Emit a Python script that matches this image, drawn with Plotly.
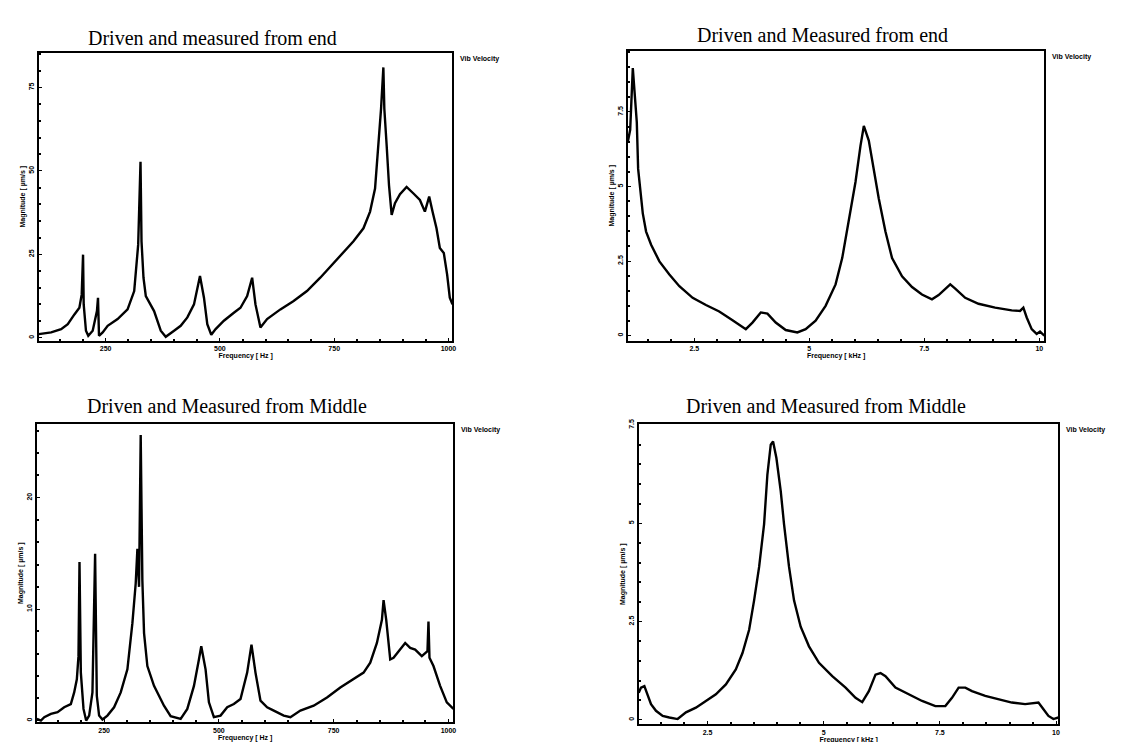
import plotly.graph_objects as go

# ---------------- data ----------------
# Top-left: driven and measured from end, low band (Hz)
tl_freq = [103.9, 130.8, 152.6, 167.2, 181.7, 192.6, 197.7, 200.6, 202.0, 207.0,
           212.0, 221.7, 231.0, 233.3, 235.5, 243.5, 254.4, 276.2, 298.0, 312.5,
           321.2, 324.9, 326.3, 328.5, 332.8, 337.9, 356.0, 370.6, 381.5, 399.7,
           414.2, 428.8, 443.3, 456.4, 465.1, 472.4, 481.1, 490.6, 508.7, 530.5,
           545.0, 559.6, 570.5, 577.8, 588.7, 603.2, 632.3, 661.3, 690.4, 719.5,
           748.5, 770.3, 792.2, 814.0, 828.5, 839.4, 846.7, 852.5, 857.6, 859.7,
           864.8, 869.9, 875.7, 883.0, 893.9, 908.4, 922.9, 937.5, 948.4, 957.8,
           965.1, 973.8, 981.1, 989.8, 997.1, 1002.9, 1008.7]
tl_mag = [1.1, 1.6, 2.6, 4.1, 7.0, 9.0, 13.0, 24.9, 10.0, 2.1,
          0.6, 2.1, 8.0, 12.0, 0.6, 1.6, 3.6, 5.6, 8.5, 14.0,
          27.9, 41.8, 52.7, 28.9, 18.0, 12.5, 8.0, 2.1, 0.3, 2.1,
          3.6, 6.1, 10.0, 18.5, 12.0, 4.1, 0.9, 2.6, 5.1, 7.5,
          9.0, 12.5, 18.0, 10.0, 3.1, 5.6, 8.5, 11.0, 14.0, 18.0,
          22.4, 25.9, 28.9, 32.8, 37.8, 44.7, 57.6, 68.6, 81.0, 68.6,
          57.6, 45.7, 36.8, 40.3, 43.0, 45.2, 43.3, 41.3, 37.8, 42.3,
          37.8, 32.8, 26.9, 25.4, 18.9, 12.0, 10.0]

# Top-right: driven and measured from end, high band (kHz)
tr_freq = [1.055, 1.106, 1.163, 1.221, 1.250, 1.279, 1.322, 1.380, 1.452, 1.561,
           1.741, 1.958, 2.175, 2.464, 2.753, 3.042, 3.331, 3.620, 3.764, 3.945,
           4.090, 4.270, 4.487, 4.740, 4.920, 5.137, 5.354, 5.571, 5.715, 5.860,
           6.004, 6.113, 6.185, 6.293, 6.402, 6.510, 6.655, 6.799, 7.016, 7.233,
           7.449, 7.666, 7.811, 7.955, 8.064, 8.172, 8.389, 8.678, 9.039, 9.400,
           9.581, 9.653, 9.726, 9.834, 9.942, 10.015, 10.11]
tr_mag = [6.5, 6.9, 8.97, 7.81, 7.15, 5.59, 4.93, 4.10, 3.49, 3.05,
          2.49, 2.05, 1.66, 1.27, 1.03, 0.81, 0.52, 0.22, 0.44, 0.78,
          0.74, 0.44, 0.19, 0.11, 0.22, 0.50, 1.00, 1.72, 2.60, 3.88,
          5.15, 6.37, 7.03, 6.54, 5.59, 4.60, 3.49, 2.60, 1.99, 1.63,
          1.38, 1.22, 1.36, 1.58, 1.72, 1.58, 1.27, 1.07, 0.94, 0.85,
          0.83, 0.94, 0.61, 0.22, 0.06, 0.14, 0.0]

# Bottom-left: driven and measured from middle, low band (Hz)
bl_freq = [103.6, 112.3, 119.6, 134.1, 148.6, 163.0, 177.5, 184.8, 190.6, 194.2,
           196.4, 197.8, 199.3, 205.1, 210.9, 217.4, 224.6, 230.4, 234.1, 239.1,
           246.4, 257.2, 271.7, 286.2, 300.7, 311.6, 318.8, 322.5, 326.1, 329.7,
           333.3, 337.0, 344.2, 358.7, 380.4, 394.9, 416.7, 431.2, 445.7, 456.5,
           461.6, 471.0, 478.3, 489.1, 503.6, 518.1, 532.6, 547.1, 561.6, 571.0,
           579.7, 590.6, 605.1, 619.6, 641.3, 655.8, 677.5, 706.5, 735.5, 764.5,
           793.5, 815.2, 829.7, 844.2, 855.1, 858.7, 864.5, 873.2, 880.4, 894.9,
           905.8, 916.7, 927.5, 942.0, 954.3, 956.5, 958.7, 967.4, 981.9, 996.4,
           1010.9]
bl_mag = [0.15, 0.0, 0.3, 0.59, 0.74, 1.19, 1.48, 2.52, 3.70, 5.78,
          14.22, 8.0, 4.30, 1.04, 0.0, 0.44, 2.52, 14.96, 2.22, 0.44,
          0.09, 0.44, 1.19, 2.52, 4.59, 8.74, 12.30, 15.41, 12.0, 25.63,
          12.59, 7.85, 4.89, 3.11, 1.33, 0.39, 0.15, 1.04, 3.11, 5.48,
          6.67, 4.59, 1.63, 0.30, 0.44, 1.19, 1.48, 1.93, 4.30, 6.81,
          4.30, 1.78, 1.19, 0.89, 0.44, 0.30, 0.89, 1.33, 2.07, 2.96,
          3.70, 4.30, 5.19, 6.96, 9.04, 10.81, 9.04, 5.48, 5.63, 6.37,
          6.96, 6.52, 6.37, 5.78, 6.22, 8.89, 5.63, 4.89, 3.11, 1.63,
          1.04]

# Bottom-right: driven and measured from middle, high band (kHz)
br_freq = [1.018, 1.068, 1.140, 1.212, 1.283, 1.390, 1.534, 1.677, 1.856, 2.035,
           2.249, 2.464, 2.679, 2.894, 3.108, 3.252, 3.395, 3.502, 3.610, 3.717,
           3.788, 3.860, 3.910, 3.982, 4.075, 4.146, 4.254, 4.361, 4.504, 4.683,
           4.898, 5.184, 5.471, 5.685, 5.829, 5.972, 6.115, 6.222, 6.330, 6.544,
           6.831, 7.117, 7.403, 7.618, 7.761, 7.904, 8.048, 8.191, 8.477, 8.763,
           9.050, 9.336, 9.622, 9.730, 9.837, 9.944, 10.052]
br_mag = [0.69, 0.82, 0.86, 0.65, 0.40, 0.23, 0.10, 0.06, 0.02, 0.19,
          0.31, 0.48, 0.65, 0.90, 1.28, 1.70, 2.29, 3.04, 3.89, 4.98,
          6.24, 7.00, 7.08, 6.66, 5.82, 4.98, 3.89, 3.04, 2.37, 1.87,
          1.45, 1.11, 0.82, 0.56, 0.45, 0.73, 1.15, 1.19, 1.11, 0.82,
          0.65, 0.48, 0.35, 0.35, 0.56, 0.82, 0.82, 0.73, 0.61, 0.52,
          0.44, 0.40, 0.44, 0.27, 0.10, 0.02, 0.06]

titles = ["Driven and measured from end", "Driven and Measured from end",
          "Driven and Measured from Middle", "Driven and Measured from Middle"]
side_label = "Vib Velocity"
x_title_hz = "Frequency [ Hz ]"
x_title_khz = "Frequency [ kHz ]"
y_title = "Magnitude [ µm/s ]"

# tick steps (major, minor)
hz_step, hz_minor = 250, 50
khz_step, khz_minor = 2.5, 0.5
tl_ystep, tl_yminor = 25, 5
tr_ystep, tr_yminor = 2.5, 0.5
bl_ystep, bl_yminor = 10, 2
br_ystep, br_yminor = 2.5, 0.5

# ---------------- figure ----------------
W, H = 1148, 742

def px_dom(a, b, total):
    return [a / total, b / total]

def py_dom(top, bottom):
    return [1 - bottom / H, 1 - top / H]

panels = [
    dict(x=tl_freq, y=tl_mag, xd=px_dom(31, 446, W), yd=py_dom(40, 330),
         xr=[104, 1008.7], yr=[-0.9, 85.4], xs=(hz_step, hz_minor),
         ys=(tl_ystep, tl_yminor), xtitle=x_title_hz),
    dict(x=tr_freq, y=tr_mag, xd=px_dom(622, 1040, W), yd=py_dom(38, 330),
         xr=[1.055, 10.11], yr=[-0.17, 9.55], xs=(khz_step, khz_minor),
         ys=(tr_ystep, tr_yminor), xtitle=x_title_khz),
    dict(x=bl_freq, y=bl_mag, xd=px_dom(29, 447, W), yd=py_dom(414, 714),
         xr=[103.6, 1010.9], yr=[-0.15, 26.6], xs=(hz_step, hz_minor),
         ys=(bl_ystep, bl_yminor), xtitle=x_title_hz),
    dict(x=br_freq, y=br_mag, xd=px_dom(633, 1054, W), yd=py_dom(414, 716),
         xr=[1.02, 10.05], yr=[-0.11, 7.52], xs=(khz_step, khz_minor),
         ys=(br_ystep, br_yminor), xtitle=x_title_khz),
]

title_pos = [(205, 25), (817, 22), (220, 396), (821, 396)]

fig = go.Figure()

def small_font():
    return dict(family="Liberation Sans", size=7, color="#000000", weight="bold")

annotations = []
for i, p in enumerate(panels):
    n = "" if i == 0 else str(i + 1)
    fig.add_trace(go.Scatter(x=p["x"], y=p["y"], mode="lines",
                             line=dict(color="#000000", width=2.4),
                             xaxis="x" + n, yaxis="y" + n, showlegend=False))
    common = dict(showline=True, linewidth=2, linecolor="#000000", mirror=True,
                  showgrid=False, zeroline=False, ticks="inside", ticklen=3,
                  tickcolor="#000000", tickfont=small_font(), tickmode="linear",
                  tick0=0)
    fig.layout["xaxis" + n] = dict(domain=p["xd"], range=p["xr"], anchor="y" + n,
                                   dtick=p["xs"][0],
                                   title=dict(text=p["xtitle"], font=small_font(), standoff=1),
                                   minor=dict(ticks="inside", ticklen=2, dtick=p["xs"][1],
                                              tick0=0, tickcolor="#000000", tickwidth=1.5),
                                   **common)
    fig.layout["yaxis" + n] = dict(domain=p["yd"], range=p["yr"], anchor="x" + n,
                                   dtick=p["ys"][0], tickangle=-90,
                                   title=dict(text=y_title, font=small_font(), standoff=2),
                                   minor=dict(ticks="inside", ticklen=2, dtick=p["ys"][1],
                                              tick0=0, tickcolor="#000000", tickwidth=1.5),
                                   **common)
    tx, ty = title_pos[i]
    annotations.append(dict(text=titles[i], x=tx / W, y=1 - ty / H, xref="paper",
                            yref="paper", showarrow=False, xanchor="center",
                            yanchor="middle",
                            font=dict(family="Liberation Serif", size=20, color="#000000")))
    annotations.append(dict(text=side_label, x=p["xd"][1] + 6 / W, y=p["yd"][1],
                            xref="paper", yref="paper", showarrow=False,
                            xanchor="left", yanchor="top", font=small_font()))

fig.update_layout(width=W, height=H, margin=dict(l=0, r=0, t=0, b=0),
                  paper_bgcolor="white", plot_bgcolor="white",
                  font=dict(color="#000000"),
                  annotations=annotations)
fig.write_html("out.html")
